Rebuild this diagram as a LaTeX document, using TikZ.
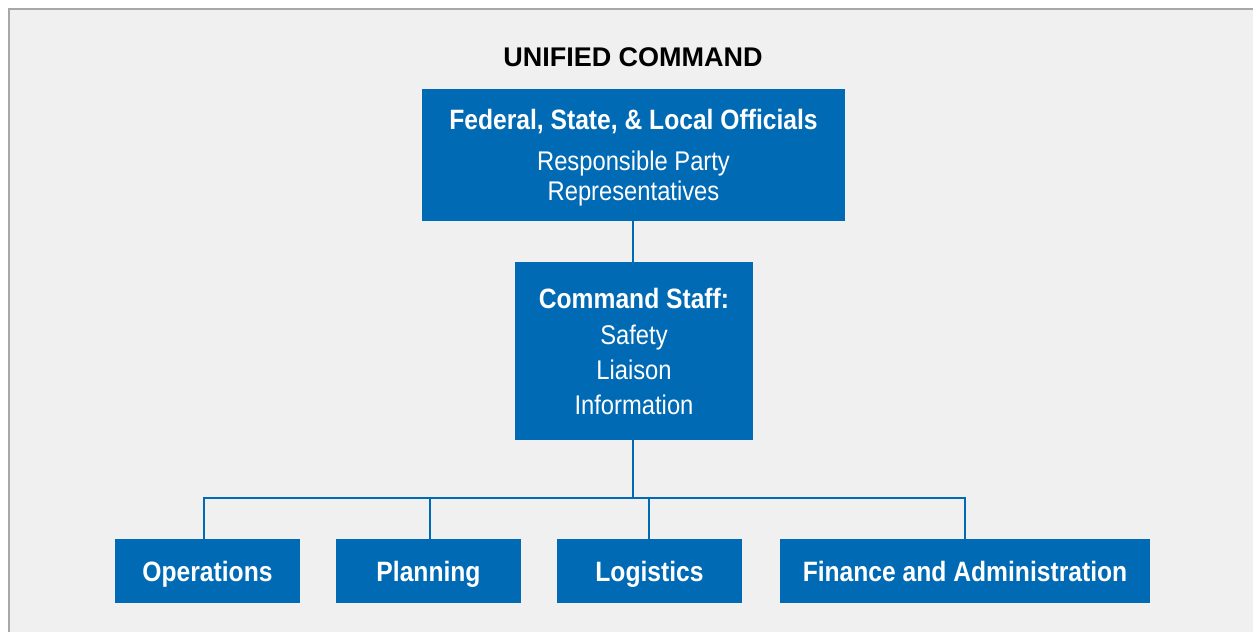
\documentclass[tikz,border=0pt]{standalone}
\usepackage{fontspec}
\setmainfont{Liberation Sans}
\newfontfamily\condfont{Liberation Sans}[FakeStretch=0.88]
\definecolor{ucblue}{HTML}{006AB4}
\definecolor{ucbg}{HTML}{F0F0F0}
\definecolor{ucframe}{HTML}{A8A8A8}
\newcommand{\hdfont}{\fontsize{28}{30}\selectfont\bfseries}
\newcommand{\ltfont}{\fontsize{27}{30}\selectfont}
\tikzset{
  box/.style={fill=ucblue, text=white, inner sep=0pt, align=center, font=\condfont\ltfont},
  unitbox/.style={box, font=\condfont\hdfont, minimum height=64pt, text height=21pt, text depth=0pt},
  link/.style={draw=ucblue, line width=2pt},
  titletext/.style={font=\bfseries\fontsize{27}{30}\selectfont, text=black, anchor=base, inner sep=0pt}
}
\begin{document}
\begin{tikzpicture}[x=1pt,y=-1pt]
\useasboundingbox (0,0) rectangle (1253,632);
\fill[white] (0,0) rectangle (1253,632);
\fill[ucbg] (8.75,8.75) rectangle (1253,632);
\draw[ucframe, line width=2.5pt] (8.75,632) -- (8.75,8.75) -- (1253,8.75);

\node[titletext] (title) at (633,66) {UNIFIED COMMAND};

\node[box, minimum width=423pt, minimum height=132pt, text depth=0pt] (top) at (633.5,155)
  {{\hdfont Federal, State, \& Local Officials}\\[11pt]
   Responsible Party\\
   Representatives};

\node[box, minimum width=238pt, minimum height=178pt] (cs) at (634,351)
  {{\hdfont Command Staff:}\\[6pt]
   Safety\\[5pt]
   Liaison\\[5pt]
   Information};

\node[unitbox, minimum width=185pt] (ops) at (207.5,571) {Operations};
\node[unitbox, minimum width=185pt] (plan) at (428.5,571) {Planning};
\node[unitbox, minimum width=185pt] (log) at (649.5,571) {Logistics};
\node[unitbox, minimum width=370pt] (fin) at (965,571) {Finance and Administration};

\coordinate (bus) at (633,498);
\draw[link] (top.south -| bus) -- (cs.north -| bus);
\draw[link] (cs.south -| bus) -- (bus);
\draw[link] ([xshift=-3.5pt]ops.north) |- (bus) -| (fin.north);
\draw[link] ([xshift=1.5pt]plan.north) -- ([xshift=1.5pt]plan.north |- bus);
\draw[link] ([xshift=-0.5pt]log.north) -- ([xshift=-0.5pt]log.north |- bus);
\end{tikzpicture}
\end{document}
